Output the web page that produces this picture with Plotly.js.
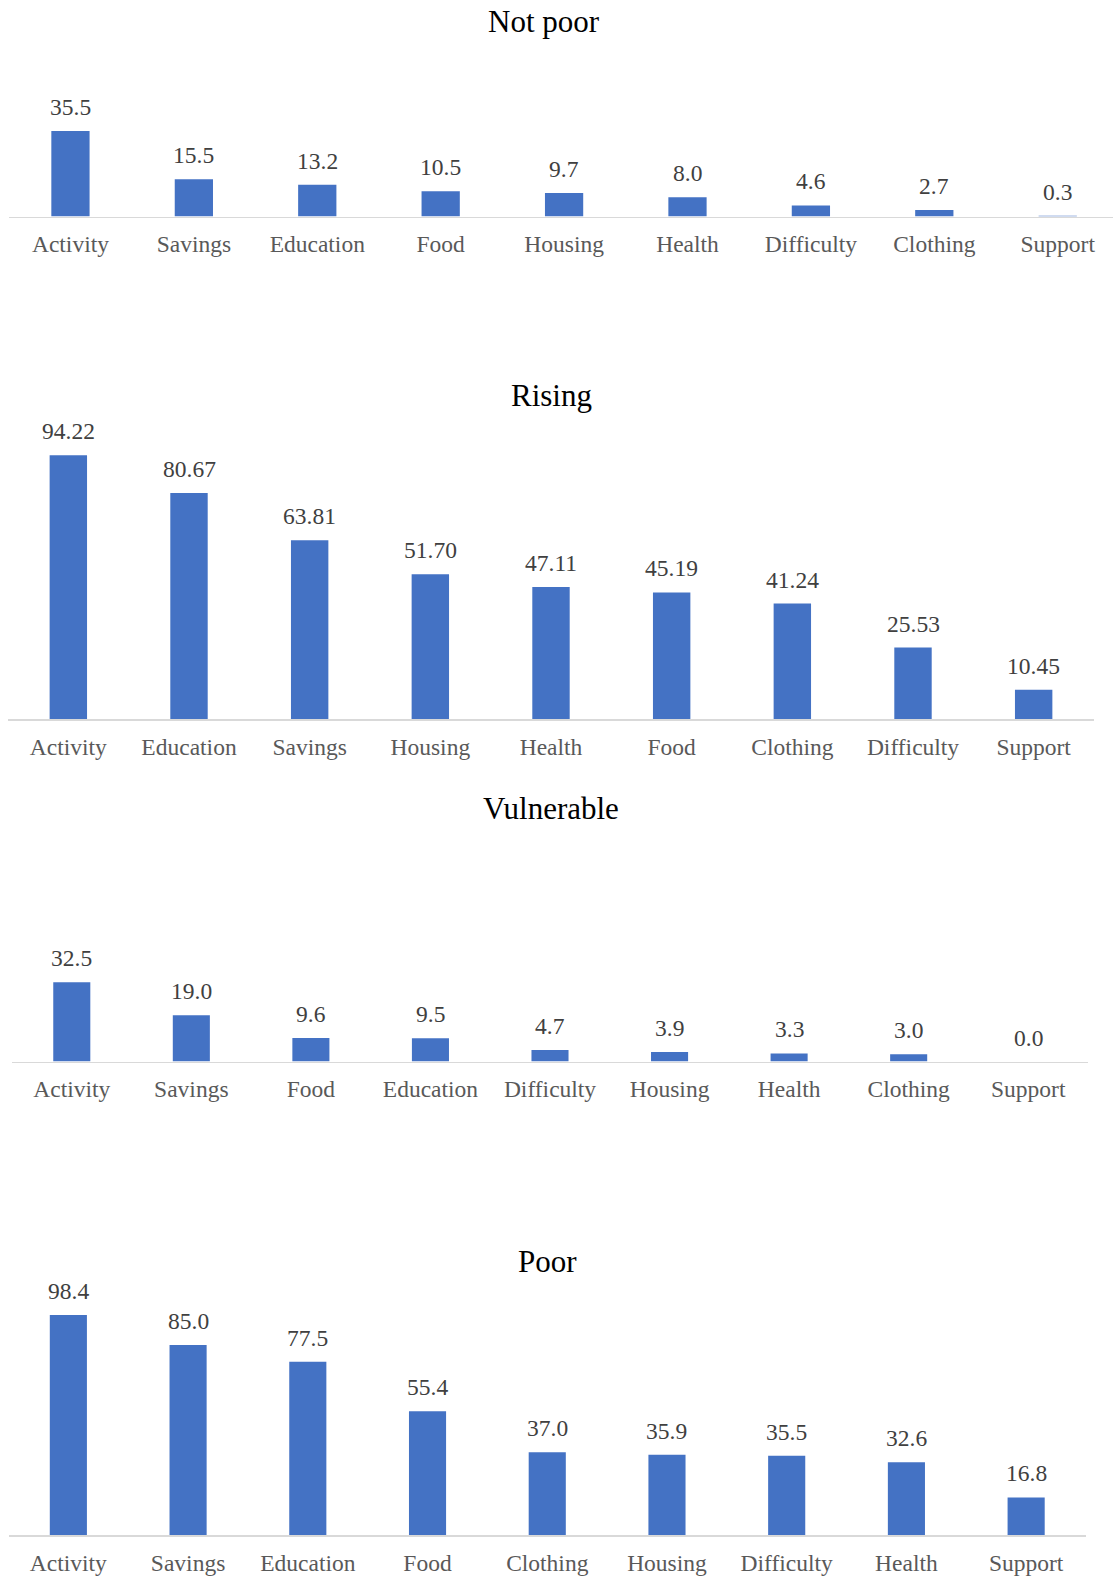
<!DOCTYPE html>
<html>
<head>
<meta charset="utf-8">
<script src="https://cdn.plot.ly/plotly-3.0.1.min.js"></script>
<style>
html,body{margin:0;padding:0;background:#fff;}
#chart{width:1113px;height:1579px;}
</style>
</head>
<body>
<div id="chart"></div>
<script>
// ---- Data ----
const titles = ["Not poor", "Rising", "Vulnerable", "Poor"];

const notPoorCats = ["Activity","Savings","Education","Food","Housing","Health","Difficulty","Clothing","Support"];
const notPoorVals = [35.5, 15.5, 13.2, 10.5, 9.7, 8.0, 4.6, 2.7, 0.3];
const notPoorLabels = ["35.5","15.5","13.2","10.5","9.7","8.0","4.6","2.7","0.3"];

const risingCats = ["Activity","Education","Savings","Housing","Health","Food","Clothing","Difficulty","Support"];
const risingVals = [94.22, 80.67, 63.81, 51.70, 47.11, 45.19, 41.24, 25.53, 10.45];
const risingLabels = ["94.22","80.67","63.81","51.70","47.11","45.19","41.24","25.53","10.45"];

const vulnerableCats = ["Activity","Savings","Food","Education","Difficulty","Housing","Health","Clothing","Support"];
const vulnerableVals = [32.5, 19.0, 9.6, 9.5, 4.7, 3.9, 3.3, 3.0, 0.0];
const vulnerableLabels = ["32.5","19.0","9.6","9.5","4.7","3.9","3.3","3.0","0.0"];

const poorCats = ["Activity","Savings","Education","Food","Clothing","Housing","Difficulty","Health","Support"];
const poorVals = [98.4, 85.0, 77.5, 55.4, 37.0, 35.9, 35.5, 32.6, 16.8];
const poorLabels = ["98.4","85.0","77.5","55.4","37.0","35.9","35.5","32.6","16.8"];

// ---- Layout geometry (pixels on a 1113x1579 page) ----
const W = 1113, H = 1579;
const panels = [
  {cats: notPoorCats, vals: notPoorVals, labels: notPoorLabels, x0: 9, x1: 1113, xr: [-0.498, 8.448], base: 216.5, pxPerUnit: 2.41, ymax: 40, titleX: 544, titleY: 22},
  {cats: risingCats, vals: risingVals, labels: risingLabels, x0: 8, x1: 1094, xr: [-0.5, 8.5], base: 719, pxPerUnit: 2.80, ymax: 100, titleX: 551, titleY: 395},
  {cats: vulnerableCats, vals: vulnerableVals, labels: vulnerableLabels, x0: 12, x1: 1088, xr: [-0.5, 8.5], base: 1061.5, pxPerUnit: 2.44, ymax: 40, titleX: 551, titleY: 809},
  {cats: poorCats, vals: poorVals, labels: poorLabels, x0: 8.5, x1: 1086, xr: [-0.5, 8.5], base: 1535, pxPerUnit: 2.235, ymax: 100, titleX: 547, titleY: 1261}
];

const fontFam = '"Times New Roman", "Liberation Serif", serif';
const barColor = '#4472C4';

const traces = [];
const layout = {
  width: W, height: H,
  margin: {l: 0, r: 0, t: 0, b: 0},
  paper_bgcolor: '#ffffff',
  plot_bgcolor: '#ffffff',
  showlegend: false,
  bargap: 0.69,
  font: {family: fontFam, color: '#595959'},
  annotations: []
};

panels.forEach((p, i) => {
  const n = i + 1;
  const xa = n === 1 ? 'x' : 'x' + n;
  const ya = n === 1 ? 'y' : 'y' + n;
  const xkey = n === 1 ? 'xaxis' : 'xaxis' + n;
  const ykey = n === 1 ? 'yaxis' : 'yaxis' + n;
  const top = p.base - p.ymax * p.pxPerUnit;

  traces.push({
    type: 'bar',
    x: p.cats,
    y: p.vals,
    xaxis: xa,
    yaxis: ya,
    marker: {color: barColor, line: {width: 0}},
    hoverinfo: 'x+y',
    cliponaxis: false
  });

  layout[xkey] = {
    domain: [p.x0 / W, p.x1 / W],
    anchor: ya,
    type: 'category',
    range: p.xr,
    showline: true,
    linecolor: '#d9d9d9',
    linewidth: 1.5,
    ticks: '',
    showgrid: false,
    zeroline: false,
    tickfont: {family: fontFam, size: 23.5, color: '#595959'},
    ticklabelstandoff: 6,
    fixedrange: true
  };
  layout[ykey] = {
    domain: [(H - p.base) / H, (H - top) / H],
    anchor: xa,
    range: [0, p.ymax],
    visible: false,
    showgrid: false,
    zeroline: false,
    fixedrange: true
  };

  p.cats.forEach((c, j) => {
    layout.annotations.push({
      xref: xa, yref: ya,
      x: c, y: p.vals[j],
      text: p.labels[j],
      showarrow: false,
      yanchor: 'bottom',
      yshift: 9,
      font: {family: fontFam, size: 23.5, color: '#404040'}
    });
  });

  layout.annotations.push({
    xref: 'paper', yref: 'paper',
    x: p.titleX / W, y: (H - p.titleY) / H,
    xanchor: 'center', yanchor: 'middle',
    text: titles[i],
    showarrow: false,
    font: {family: fontFam, size: 31, color: '#000000'}
  });
});

Plotly.newPlot('chart', traces, layout, {displayModeBar: false, staticPlot: true});
</script>
</body>
</html>
